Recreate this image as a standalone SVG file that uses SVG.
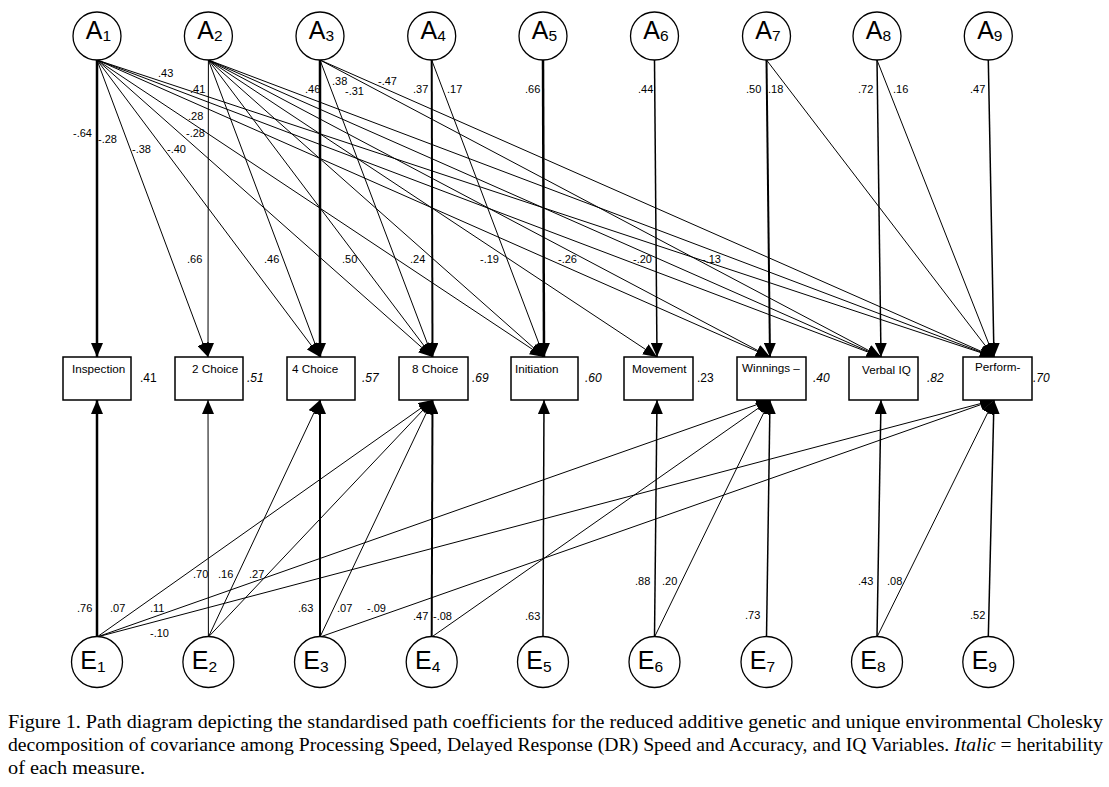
<svg xmlns="http://www.w3.org/2000/svg" width="1109" height="787" viewBox="0 0 1109 787">
<style>
.bg{fill:#fff}
.node ellipse,.node circle{fill:#fff;stroke:#000;stroke-width:1.3}
.node rect{fill:#fff;stroke:#000;stroke-width:1.5}
.big{font-family:"Liberation Sans",Arial,sans-serif;font-size:25px;fill:#000}
.sub{font-size:15.5px}
.lbl{font-family:"Liberation Sans",Arial,sans-serif;font-size:11.7px;fill:#000}
.h2{font-family:"Liberation Sans",Arial,sans-serif;font-size:12px;fill:#000;font-style:italic}
.h2n{font-style:normal}
.coef{font-family:"Liberation Sans",Arial,sans-serif;font-size:11px;fill:#000}
.conn line{stroke:#000;stroke-width:1;marker-end:url(#ah)}
.w15{stroke-width:1.5!important}
.w2{stroke-width:2!important}
.w25{stroke-width:2.5!important}
.cap{font-family:"Liberation Serif","Times New Roman",serif;font-size:18.5px;fill:#000}
</style>
<defs>
<marker id="ah" markerUnits="userSpaceOnUse" markerWidth="14" markerHeight="12" viewBox="0 0 14 12" refX="14" refY="6" orient="auto">
<path d="M0,0 L14,6 L0,12 z" fill="#000"/>
</marker>
</defs>
<rect class="bg" x="0" y="0" width="1109" height="787"/>

<g id="connectors" class="conn">
<!-- A1 -->
<line class="w25" x1="97" y1="60" x2="97" y2="357"/>
<line x1="97" y1="60" x2="208" y2="357"/>
<line x1="97" y1="60" x2="320" y2="357"/>
<line x1="97" y1="60" x2="432.5" y2="357"/>
<line x1="97" y1="60" x2="544" y2="357"/>
<line x1="97" y1="60" x2="770" y2="357"/>
<line x1="97" y1="60" x2="881" y2="357"/>
<line x1="97" y1="60" x2="994" y2="357"/>
<!-- A2 -->
<line x1="208.4" y1="60" x2="208" y2="357"/>
<line x1="208.4" y1="60" x2="320" y2="357"/>
<line x1="208.4" y1="60" x2="432.5" y2="357"/>
<line x1="208.4" y1="60" x2="544" y2="357"/>
<line x1="208.4" y1="60" x2="657" y2="357"/>
<line x1="208.4" y1="60" x2="770" y2="357"/>
<line x1="208.4" y1="60" x2="881" y2="357"/>
<line x1="208.4" y1="60" x2="994" y2="357"/>
<!-- A3 -->
<line class="w25" x1="320" y1="60" x2="320" y2="357"/>
<line x1="320" y1="60" x2="432.5" y2="357"/>
<line x1="320" y1="60" x2="881" y2="357"/>
<line x1="320" y1="60" x2="994" y2="357"/>
<!-- A4 -->
<line class="w2" x1="431.7" y1="60" x2="432.5" y2="357"/>
<line x1="431.7" y1="60" x2="544" y2="357"/>
<!-- A5..A9 -->
<line class="w25" x1="543" y1="60" x2="544" y2="357"/>
<line class="w15" x1="654.5" y1="60" x2="657" y2="357"/>
<line class="w2" x1="766.5" y1="60" x2="770" y2="357"/>
<line x1="766.5" y1="60" x2="994" y2="357"/>
<line class="w15" x1="877" y1="60" x2="881" y2="357"/>
<line x1="877" y1="60" x2="994" y2="357"/>
<line class="w15" x1="988.3" y1="60" x2="994" y2="357"/>
<!-- E1 -->
<line class="w25" x1="97" y1="637" x2="97" y2="400"/>
<line x1="97" y1="637" x2="432.5" y2="400"/>
<line x1="97" y1="637" x2="770" y2="400"/>
<line x1="97" y1="637" x2="994" y2="400"/>
<!-- E2 -->
<line x1="208.4" y1="637" x2="208" y2="400"/>
<line x1="208.4" y1="637" x2="320" y2="400"/>
<line x1="208.4" y1="637" x2="432.5" y2="400"/>
<!-- E3 -->
<line class="w2" x1="320" y1="637" x2="320" y2="400"/>
<line x1="320" y1="637" x2="432.5" y2="400"/>
<line x1="320" y1="637" x2="994" y2="400"/>
<!-- E4 -->
<line class="w2" x1="431.7" y1="637" x2="432.5" y2="400"/>
<line x1="431.7" y1="637" x2="770" y2="400"/>
<!-- E5..E9 -->
<line class="w15" x1="543" y1="637" x2="544" y2="400"/>
<line class="w15" x1="654.5" y1="637" x2="657" y2="400"/>
<line x1="654.5" y1="637" x2="770" y2="400"/>
<line class="w15" x1="766.5" y1="637" x2="770" y2="400"/>
<line class="w15" x1="877" y1="637" x2="881" y2="400"/>
<line x1="877" y1="637" x2="994" y2="400"/>
<line class="w15" x1="988.3" y1="637" x2="994" y2="400"/>
</g>

<g id="coefficients" class="coef">
<text x="158" y="77">.43</text>
<text x="190" y="93">.41</text>
<text x="188" y="120">.28</text>
<text x="186" y="137">-.28</text>
<text x="73" y="137">-.64</text>
<text x="98" y="143">-.28</text>
<text x="132" y="153">-.38</text>
<text x="167" y="153">-.40</text>
<text x="305" y="93">.46</text>
<text x="332" y="85">.38</text>
<text x="345" y="95">-.31</text>
<text x="378" y="85">-.47</text>
<text x="413" y="93">.37</text>
<text x="447" y="93">.17</text>
<text x="525" y="93">.66</text>
<text x="638" y="93">.44</text>
<text x="746" y="93">.50</text>
<text x="768" y="93">.18</text>
<text x="858" y="93">.72</text>
<text x="893" y="93">.16</text>
<text x="970" y="93">.47</text>
<text x="187" y="263">.66</text>
<text x="264" y="263">.46</text>
<text x="342" y="263">.50</text>
<text x="410" y="263">.24</text>
<text x="480" y="263">-.19</text>
<text x="558" y="263">-.26</text>
<text x="633" y="263">-.20</text>
<text x="702" y="263">-.13</text>
<text x="77" y="612">.76</text>
<text x="110" y="612">.07</text>
<text x="150" y="612">.11</text>
<text x="150" y="637">-.10</text>
<text x="193" y="578">.70</text>
<text x="218" y="578">.16</text>
<text x="249" y="578">.27</text>
<text x="298" y="612">.63</text>
<text x="337" y="612">.07</text>
<text x="367" y="612">-.09</text>
<text x="413" y="620">.47</text>
<text x="433" y="620">-.08</text>
<text x="525" y="620">.63</text>
<text x="635" y="585">.88</text>
<text x="662" y="585">.20</text>
<text x="745" y="619">.73</text>
<text x="858" y="585">.43</text>
<text x="887" y="585">.08</text>
<text x="970" y="619">.52</text>
</g>

<g id="A1" class="node"><circle cx="97" cy="36" r="24"/><text class="big" x="98.5" y="39" text-anchor="middle">A<tspan class="sub" dy="2">1</tspan></text></g>
<g id="A2" class="node"><circle cx="208.4" cy="36" r="24"/><text class="big" x="209.9" y="39" text-anchor="middle">A<tspan class="sub" dy="2">2</tspan></text></g>
<g id="A3" class="node"><circle cx="320" cy="36" r="24"/><text class="big" x="321.5" y="39" text-anchor="middle">A<tspan class="sub" dy="2">3</tspan></text></g>
<g id="A4" class="node"><circle cx="431.7" cy="36" r="24"/><text class="big" x="433.2" y="39" text-anchor="middle">A<tspan class="sub" dy="2">4</tspan></text></g>
<g id="A5" class="node"><circle cx="543" cy="36" r="24"/><text class="big" x="544.5" y="39" text-anchor="middle">A<tspan class="sub" dy="2">5</tspan></text></g>
<g id="A6" class="node"><circle cx="654.5" cy="36" r="24"/><text class="big" x="656" y="39" text-anchor="middle">A<tspan class="sub" dy="2">6</tspan></text></g>
<g id="A7" class="node"><circle cx="766.5" cy="36" r="24"/><text class="big" x="768" y="39" text-anchor="middle">A<tspan class="sub" dy="2">7</tspan></text></g>
<g id="A8" class="node"><circle cx="877" cy="36" r="24"/><text class="big" x="878.5" y="39" text-anchor="middle">A<tspan class="sub" dy="2">8</tspan></text></g>
<g id="A9" class="node"><circle cx="988.3" cy="36" r="24"/><text class="big" x="989.8" y="39" text-anchor="middle">A<tspan class="sub" dy="2">9</tspan></text></g>

<g id="Inspection" class="node"><rect x="63" y="357" width="68" height="43"/><text class="lbl" x="72" y="373">Inspection</text><text class="h2 h2n" x="140" y="382">.41</text></g>
<g id="Choice2" class="node"><rect x="175" y="357" width="68" height="43"/><text class="lbl" x="192" y="373">2 Choice</text><text class="h2" x="247" y="382">.51</text></g>
<g id="Choice4" class="node"><rect x="287" y="357" width="68" height="43"/><text class="lbl" x="292" y="373">4 Choice</text><text class="h2" x="362" y="382">.57</text></g>
<g id="Choice8" class="node"><rect x="399" y="357" width="69" height="43"/><text class="lbl" x="412" y="373">8 Choice</text><text class="h2" x="472" y="382">.69</text></g>
<g id="Initiation" class="node"><rect x="511" y="357" width="67" height="43"/><text class="lbl" x="515" y="373">Initiation</text><text class="h2" x="585" y="382">.60</text></g>
<g id="Movement" class="node"><rect x="624" y="357" width="69" height="43"/><text class="lbl" x="632" y="373">Movement</text><text class="h2 h2n" x="697" y="382">.23</text></g>
<g id="Winnings" class="node"><rect x="737" y="357" width="69" height="43"/><text class="lbl" x="742" y="372">Winnings –</text><text class="h2" x="813" y="382">.40</text></g>
<g id="VerbalIQ" class="node"><rect x="849" y="357" width="69" height="43"/><text class="lbl" x="862" y="374">Verbal IQ</text><text class="h2" x="927" y="382">.82</text></g>
<g id="Perform" class="node"><rect x="963" y="357" width="69" height="43"/><text class="lbl" x="975" y="371">Perform-</text><text class="h2" x="1033" y="382">.70</text></g>

<g id="E1" class="node"><circle cx="97" cy="662" r="25.5"/><text class="big" x="93" y="669" text-anchor="middle">E<tspan class="sub" dy="3">1</tspan></text></g>
<g id="E2" class="node"><circle cx="208.4" cy="662" r="25.5"/><text class="big" x="204.4" y="669" text-anchor="middle">E<tspan class="sub" dy="3">2</tspan></text></g>
<g id="E3" class="node"><circle cx="320" cy="662" r="25.5"/><text class="big" x="316" y="669" text-anchor="middle">E<tspan class="sub" dy="3">3</tspan></text></g>
<g id="E4" class="node"><circle cx="431.7" cy="662" r="25.5"/><text class="big" x="427.7" y="669" text-anchor="middle">E<tspan class="sub" dy="3">4</tspan></text></g>
<g id="E5" class="node"><circle cx="543" cy="662" r="25.5"/><text class="big" x="539" y="669" text-anchor="middle">E<tspan class="sub" dy="3">5</tspan></text></g>
<g id="E6" class="node"><circle cx="654.5" cy="662" r="25.5"/><text class="big" x="650.5" y="669" text-anchor="middle">E<tspan class="sub" dy="3">6</tspan></text></g>
<g id="E7" class="node"><circle cx="766.5" cy="662" r="25.5"/><text class="big" x="762.5" y="669" text-anchor="middle">E<tspan class="sub" dy="3">7</tspan></text></g>
<g id="E8" class="node"><circle cx="877" cy="662" r="25.5"/><text class="big" x="873" y="669" text-anchor="middle">E<tspan class="sub" dy="3">8</tspan></text></g>
<g id="E9" class="node"><circle cx="988.3" cy="662" r="25.5"/><text class="big" x="984.3" y="669" text-anchor="middle">E<tspan class="sub" dy="3">9</tspan></text></g>

<g id="caption" class="cap">
<text x="8" y="728" textLength="1095" lengthAdjust="spacingAndGlyphs">Figure 1. Path diagram depicting the standardised path coefficients for the reduced additive genetic and unique environmental Cholesky</text>
<text x="8" y="751" textLength="1095" lengthAdjust="spacingAndGlyphs">decomposition of covariance among Processing Speed, Delayed Response (DR) Speed and Accuracy, and IQ Variables. <tspan font-style="italic">Italic</tspan> = heritability</text>
<text x="8" y="774" textLength="137" lengthAdjust="spacingAndGlyphs">of each measure.</text>
</g>
</svg>
